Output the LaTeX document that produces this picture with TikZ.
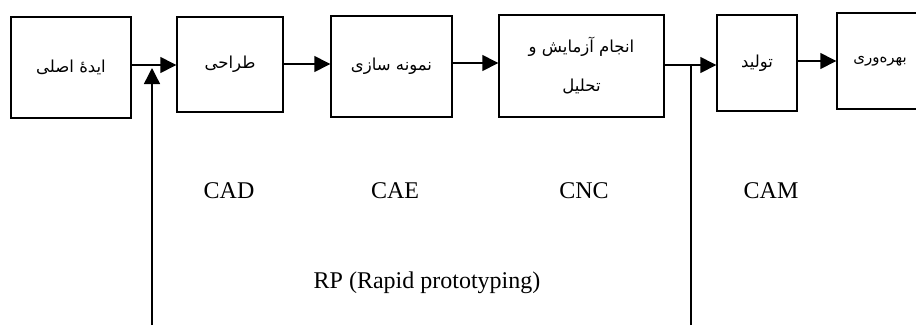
\documentclass[tikz,border=0pt]{standalone}
\usepackage{fontspec}
\setmainfont{Liberation Serif}
\newfontfamily\arabicfont[Script=Arabic]{DejaVu Sans}
\TeXXeTstate=1
\usetikzlibrary{arrows.meta}
\tikzset{
  box/.style={draw, line width=1.4pt, inner sep=0pt, font=\arabicfont\fontsize{16.5}{19}\selectfont, align=center},
  arr/.style={line width=1.4pt, -{Triangle[length=16pt,width=16pt]}},
  line/.style={line width=1.4pt},
  lbl/.style={font=\fontsize{24}{28}\selectfont, inner sep=0pt},
}
\begin{document}
\begin{tikzpicture}[x=1pt,y=-1pt]
\clip (0,0) rectangle (916,325);
\useasboundingbox (0,0) rectangle (916,325);
\node[box, minimum width=120pt, minimum height=101pt] (b1) at (71,67.5) {\beginR ایدهٔ اصلی\endR};
\node[box, minimum width=106pt, minimum height=95pt] (b2) at (230,64.5) {\beginR طراحی\endR};
\node[box, minimum width=121pt, minimum height=101pt] (b3) at (391.5,66.5) {\raisebox{4pt}{\beginR نمونه سازی\endR}};
\node[box, minimum width=165pt, minimum height=102pt] (b4) at (581.5,66) {\beginR انجام آزمایش و\endR\\[20pt]\beginR تحلیل\endR};
\node[box, minimum width=80pt, minimum height=96pt] (b5) at (757,63) {\beginR تولید\endR};
\node[box, minimum width=86pt, minimum height=96pt, font=\arabicfont\fontsize{15}{18}\selectfont] (b6) at (880,61) {\beginR بهره‌وری\endR};
\coordinate (j1) at (152,65);
\coordinate (j2) at (691,65);
\coordinate (s1) at (152,325);
\coordinate (s2) at (691,325);
\draw[line] (b1.east |- j1) -- (j1);
\draw[arr] (j1) -- (j1 -| b2.west);
\draw[arr] (s1) -- ([yshift=-3pt]j1);
\draw[arr] (b2.east |- 0,64) -- (b3.west |- 0,64);
\draw[arr] (b3.east |- 0,63) -- (b4.west |- 0,63);
\draw[line] (b4.east |- j2) -- (j2);
\draw[arr] (j2) -- (j2 -| b5.west);
\draw[line] (s2) -- (j2);
\draw[arr] (b5.east |- 0,61) -- (b6.west |- 0,61);
\node[lbl] (cad) at (229,191) {CAD};
\node[lbl] (cae) at (395,191) {CAE};
\node[lbl] (cnc) at (584,191) {CNC};
\node[lbl] (cam) at (771,191) {CAM};
\node[lbl] (rp) at (427,283) {RP (Rapid prototyping)};
\end{tikzpicture}
\end{document}
